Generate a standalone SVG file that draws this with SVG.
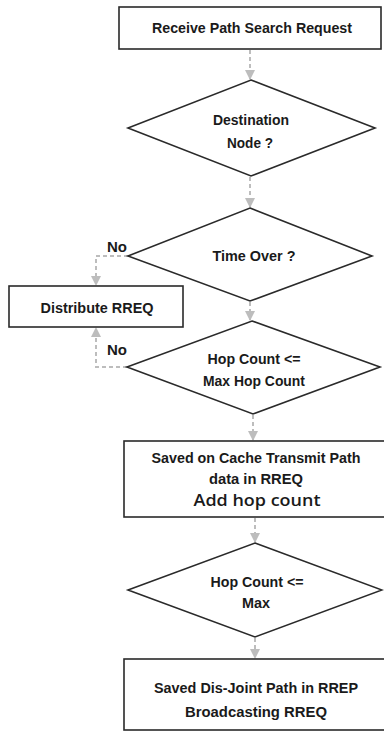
<svg xmlns="http://www.w3.org/2000/svg" width="384" height="736" viewBox="0 0 384 736">
<defs>
<style>
.box{fill:#fff;stroke:#2a2a2a;stroke-width:1.6}
.dia{fill:#fff;stroke:#2a2a2a;stroke-width:1.6}
.t{font-family:"Liberation Sans",Arial,sans-serif;font-weight:bold;font-size:14px;fill:#1a1a1a;text-anchor:middle}
.t2{font-family:"Open Sans","Liberation Sans",sans-serif;font-weight:600;font-size:15.5px;fill:#1a1a1a;text-anchor:middle}
.c{fill:none;stroke:#bdbdbd;stroke-width:2;stroke-dasharray:4 3}
</style>
<marker id="ah" viewBox="0 0 10 10" refX="9" refY="5" markerWidth="5" markerHeight="5" orient="auto">
<path d="M0,0 L10,5 L0,10 z" fill="#bdbdbd"/>
</marker>
</defs>
<rect width="384" height="736" fill="#fff"/>
<g id="connectors">
<path class="c" d="M250,50 V79" marker-end="url(#ah)"/>
<path class="c" d="M250,177 V207" marker-end="url(#ah)"/>
<path class="c" d="M128,256 H96 V285" marker-end="url(#ah)"/>
<path class="c" d="M250,302 V320" marker-end="url(#ah)"/>
<path class="c" d="M127,367 H96 V328" marker-end="url(#ah)"/>
<path class="c" d="M253,415 V440" marker-end="url(#ah)"/>
<path class="c" d="M255,518 V542" marker-end="url(#ah)"/>
<path class="c" d="M255,638 V658" marker-end="url(#ah)"/>
</g>
<g id="n1">
<rect class="box" x="119" y="7" width="262" height="42"/>
<text class="t" x="252" y="33" textLength="200" lengthAdjust="spacingAndGlyphs">Receive Path  Search Request</text>
</g>
<g id="n2">
<polygon class="dia" points="251,80 375,128 251,176 128,128"/>
<text class="t" x="251" y="125" textLength="76" lengthAdjust="spacingAndGlyphs">Destination</text>
<text class="t" x="250" y="148" textLength="46" lengthAdjust="spacingAndGlyphs">Node ?</text>
</g>
<g id="n3">
<polygon class="dia" points="250,208 372,256 250,301 128,256"/>
<text class="t" x="254" y="261" textLength="83" lengthAdjust="spacingAndGlyphs">Time Over ?</text>
</g>
<g id="lbl1">
<text class="t" x="117" y="252" textLength="20" lengthAdjust="spacingAndGlyphs">No</text>
</g>
<g id="n4">
<rect class="box" x="9" y="286" width="174" height="41"/>
<text class="t" x="97" y="313" textLength="113" lengthAdjust="spacingAndGlyphs">Distribute RREQ</text>
</g>
<g id="lbl2">
<text class="t" x="117" y="355" textLength="20" lengthAdjust="spacingAndGlyphs">No</text>
</g>
<g id="n5">
<polygon class="dia" points="252,321 380,367 253,414 127,367"/>
<text class="t" x="254" y="364" textLength="93" lengthAdjust="spacingAndGlyphs">Hop Count &lt;=</text>
<text class="t" x="254" y="386" textLength="102" lengthAdjust="spacingAndGlyphs">Max Hop Count</text>
</g>
<g id="n6">
<rect class="box" x="124" y="441" width="270" height="76"/>
<text class="t" x="256" y="463" textLength="209" lengthAdjust="spacingAndGlyphs">Saved on Cache Transmit Path</text>
<text class="t" x="256" y="484" textLength="94" lengthAdjust="spacingAndGlyphs">data in RREQ</text>
<text class="t2" x="257" y="506" textLength="127" lengthAdjust="spacingAndGlyphs">Add hop count</text>
</g>
<g id="n7">
<polygon class="dia" points="255,543 382,590 255,637 128,590"/>
<text class="t" x="257" y="587" textLength="93" lengthAdjust="spacingAndGlyphs">Hop Count &lt;=</text>
<text class="t" x="256" y="608" textLength="28" lengthAdjust="spacingAndGlyphs">Max</text>
</g>
<g id="n8">
<rect class="box" x="124" y="659" width="270" height="71"/>
<text class="t" x="256" y="693" textLength="204" lengthAdjust="spacingAndGlyphs">Saved Dis-Joint Path in RREP</text>
<text class="t" x="256" y="717" textLength="142" lengthAdjust="spacingAndGlyphs">Broadcasting  RREQ</text>
</g>
</svg>
